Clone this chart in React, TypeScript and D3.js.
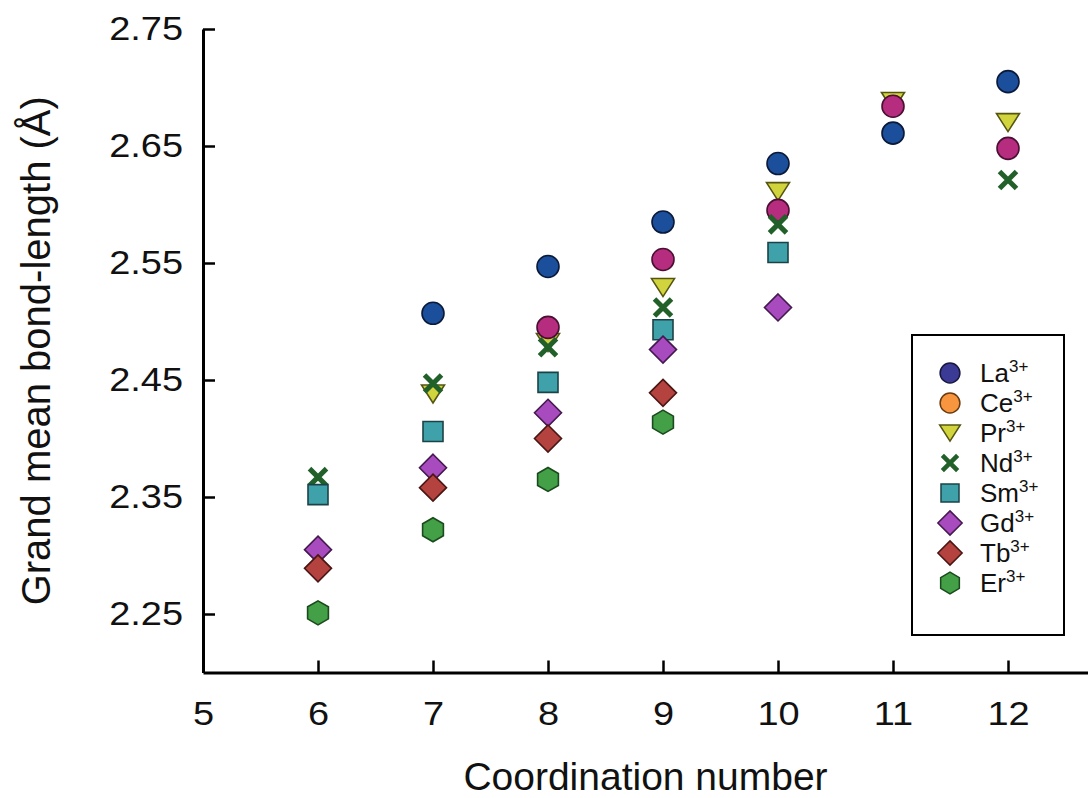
import React, { useEffect, useRef } from "react";
import * as d3 from "d3";

// Coordination numbers on the x axis
const coordination = [6, 7, 8, 9, 10, 11, 12];

// Grand mean bond-length (Å) per lanthanide ion, aligned with `coordination` (null = no data)
const laValues = [null, 2.507, 2.547, 2.585, 2.635, 2.661, 2.705];
const ceValues = [null, null, 2.495, 2.553, 2.595, 2.684, 2.648];
const prValues = [null, 2.438, 2.482, 2.529, 2.611, 2.688, 2.670];
const ndValues = [2.367, 2.447, 2.478, 2.512, 2.583, null, 2.621];
const smValues = [2.352, 2.406, 2.448, 2.493, 2.559, null, null];
const gdValues = [2.305, 2.375, 2.422, 2.476, 2.512, null, null];
const tbValues = [2.289, 2.358, 2.400, 2.439, null, null, null];
const erValues = [2.251, 2.322, 2.365, 2.414, null, null, null];

const yTicks = [2.25, 2.35, 2.45, 2.55, 2.65, 2.75];
const xTicks = [5, 6, 7, 8, 9, 10, 11, 12];

type Shape = "circle" | "triangleDown" | "cross" | "square" | "diamond" | "hexagon";

interface Series {
  ion: string;
  values: (number | null)[];
  shape: Shape;
  fill: string;
  stroke: string;
  legendFill: string;
  legendStroke: string;
}

const series: Series[] = [
  { ion: "La", values: laValues, shape: "circle", fill: "#1c4f9b", stroke: "#0b1a3a", legendFill: "#3b3b96", legendStroke: "#17173f" },
  { ion: "Ce", values: ceValues, shape: "circle", fill: "#b62c7e", stroke: "#4a0f33", legendFill: "#f7963f", legendStroke: "#6a3a10" },
  { ion: "Pr", values: prValues, shape: "triangleDown", fill: "#d2d43e", stroke: "#555512", legendFill: "#d2d43e", legendStroke: "#555512" },
  { ion: "Nd", values: ndValues, shape: "cross", fill: "#22602a", stroke: "#22602a", legendFill: "#22602a", legendStroke: "#22602a" },
  { ion: "Sm", values: smValues, shape: "square", fill: "#3fa1aa", stroke: "#1b4347", legendFill: "#3fa1aa", legendStroke: "#1b4347" },
  { ion: "Gd", values: gdValues, shape: "diamond", fill: "#a84bbf", stroke: "#45184f", legendFill: "#a84bbf", legendStroke: "#45184f" },
  { ion: "Tb", values: tbValues, shape: "diamond", fill: "#b4423e", stroke: "#4a1614", legendFill: "#b4423e", legendStroke: "#4a1614" },
  { ion: "Er", values: erValues, shape: "hexagon", fill: "#43a047", stroke: "#1a4a1d", legendFill: "#43a047", legendStroke: "#1a4a1d" },
];

// Order in which marker layers are stacked (later on top)
const drawOrder = ["La", "Pr", "Ce", "Nd", "Sm", "Gd", "Tb", "Er"];

const WIDTH = 1088;
const HEIGHT = 798;
const FONT = "'Liberation Sans', Arial, sans-serif";
// Tick labels use a slightly widened face
const TICK_STRETCH = 1.15;

function markerPath(shape: Shape, s: number): string {
  switch (shape) {
    case "circle": {
      const r = 11 * s;
      return `M${-r},0A${r},${r} 0 1,0 ${r},0A${r},${r} 0 1,0 ${-r},0Z`;
    }
    case "triangleDown": {
      const w = 11.5 * s;
      const h = 9 * s;
      return `M${-w},${-h}L${w},${-h}L0,${h}Z`;
    }
    case "cross": {
      const a = 8.5 * s;
      return `M${-a},${-a}L${a},${a}M${a},${-a}L${-a},${a}`;
    }
    case "square": {
      const a = 10 * s;
      return `M${-a},${-a}H${a}V${a}H${-a}Z`;
    }
    case "diamond": {
      const a = 13.5 * s;
      return `M0,${-a}L${a},0L0,${a}L${-a},0Z`;
    }
    case "hexagon": {
      const r = 12 * s;
      const pts = d3.range(6).map((i) => {
        const ang = (Math.PI / 3) * i - Math.PI / 2;
        return [r * Math.cos(ang), r * Math.sin(ang)];
      });
      return "M" + pts.map((p) => p.join(",")).join("L") + "Z";
    }
  }
}

export default function App() {
  const ref = useRef<SVGSVGElement>(null);

  useEffect(() => {
    const svg = d3.select(ref.current);
    svg.selectAll("*").remove();

    const x = d3.scaleLinear().domain([5, 12.7]).range([203, 1088.5]);
    const y = d3.scaleLinear().domain([2.2, 2.75]).range([672.5, 29]);

    // Y axis with inward ticks
    const yAxis = svg
      .append("g")
      .attr("transform", `translate(${x(5)},0)`)
      .call(
        d3
          .axisLeft(y)
          .tickValues(yTicks)
          .tickSizeInner(-12)
          .tickSizeOuter(0)
          .tickPadding(20)
          .tickFormat(d3.format(".2f"))
      );

    // X axis with inward ticks
    const xAxis = svg
      .append("g")
      .attr("transform", `translate(0,${y(2.2)})`)
      .call(
        d3
          .axisBottom(x)
          .tickValues(xTicks)
          .tickSizeInner(-12)
          .tickSizeOuter(0)
          .tickPadding(29)
          .tickFormat(d3.format("d"))
      );

    [yAxis, xAxis].forEach((g) => {
      g.select(".domain").attr("stroke", "#000").attr("stroke-width", 3);
      g.selectAll(".tick line").attr("stroke", "#000").attr("stroke-width", 2.5);
      g.selectAll(".tick text")
        .attr("fill", "#111")
        .style("font-family", FONT)
        .style("font-size", "33px");
    });
    yAxis
      .selectAll(".tick text")
      .attr("x", -20 / TICK_STRETCH)
      .attr("transform", `scale(${TICK_STRETCH},1)`);
    xAxis.selectAll(".tick text").attr("transform", `scale(${TICK_STRETCH},1)`);
    // The 5 tick sits on the y axis line
    xAxis.selectAll(".tick").filter((d: any) => d === 5).select("line").remove();

    // Axis titles
    svg
      .append("text")
      .attr("x", (x(5) + WIDTH) / 2)
      .attr("y", 790)
      .attr("text-anchor", "middle")
      .style("font-family", FONT)
      .style("font-size", "39px")
      .attr("fill", "#111")
      .text("Coordination number");

    svg
      .append("text")
      .attr("transform", `translate(50,${(y(2.2) + y(2.75)) / 2}) rotate(-90)`)
      .attr("text-anchor", "middle")
      .style("font-family", FONT)
      .style("font-size", "40px")
      .attr("fill", "#111")
      .text("Grand mean bond-length (Å)");

    // Markers
    const marks = svg.append("g");
    drawOrder.forEach((ion) => {
      const s = series.find((d) => d.ion === ion)!;
      const pts = coordination
        .map((c, i) => ({ c, v: s.values[i] }))
        .filter((p) => p.v !== null) as { c: number; v: number }[];
      const g = marks.append("g");
      pts.forEach((p) => {
        const path = g
          .append("path")
          .attr("d", markerPath(s.shape, 1))
          .attr("transform", `translate(${x(p.c)},${y(p.v)})`);
        if (s.shape === "cross") {
          path.attr("fill", "none").attr("stroke", s.stroke).attr("stroke-width", 5);
        } else {
          path.attr("fill", s.fill).attr("stroke", s.stroke).attr("stroke-width", 1.6);
        }
      });
    });

    // Legend
    const legend = svg.append("g");
    legend
      .append("rect")
      .attr("x", 912)
      .attr("y", 335)
      .attr("width", 152)
      .attr("height", 300)
      .attr("fill", "#fff")
      .attr("stroke", "#000")
      .attr("stroke-width", 2);

    const rowY = d3.scaleLinear().domain([0, series.length - 1]).range([373, 583]);
    series.forEach((s, i) => {
      const yy = rowY(i);
      const p = legend
        .append("path")
        .attr("d", markerPath(s.shape, 0.9))
        .attr("transform", `translate(950,${yy})`);
      if (s.shape === "cross") {
        p.attr("fill", "none").attr("stroke", s.legendStroke).attr("stroke-width", 4.5);
      } else {
        p.attr("fill", s.legendFill).attr("stroke", s.legendStroke).attr("stroke-width", 1.5);
      }
      const t = legend
        .append("text")
        .attr("x", 980)
        .attr("y", yy + 9)
        .style("font-family", FONT)
        .style("font-size", "26px")
        .attr("fill", "#111");
      t.append("tspan").text(s.ion);
      t.append("tspan").attr("dy", -10).style("font-size", "17px").text("3+");
    });
  }, []);

  return (
    <svg
      ref={ref}
      width={WIDTH}
      height={HEIGHT}
      style={{ position: "absolute", left: 0, top: 0, background: "#fff" }}
    />
  );
}
